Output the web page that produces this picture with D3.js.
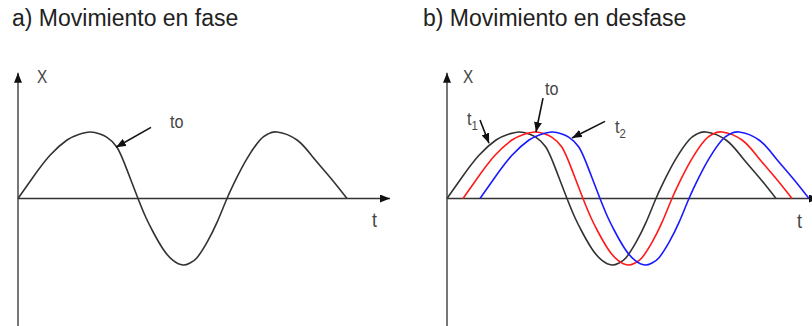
<!DOCTYPE html>
<html lang="es">
<head>
  <meta charset="UTF-8">
  <title>Movimiento en fase y en desfase</title>
  <style>
    body { margin: 0; background: #fff; }
    svg { display: block; font-family: "Liberation Sans", Arial, sans-serif; }
  </style>
</head>
<body>
  <script src="https://d3js.org/d3.v7.min.js"></script>
  <script>
    const width = 812;
    const height = 326;

    // wave: time (arbitrary units) and elongation X
    const tValues = [0, 15, 32, 49, 60, 72, 82, 89, 99, 109, 120, 128, 135, 145, 155, 165, 172, 179, 189, 199, 209, 219, 229, 242, 250, 259, 279, 295, 312, 329];
    const xValues = [0, 0.32, 0.65, 0.88, 0.96, 1, 0.97, 0.92, 0.77, 0.43, 0, -0.29, -0.5, -0.76, -0.93, -1, -0.97, -0.89, -0.66, -0.36, 0, 0.32, 0.6, 0.88, 0.97, 1, 0.88, 0.62, 0.32, 0];
    // time shift of each curve in panel b
    const shifts = [0, 16, 33];
    const titles = ['a) Movimiento en fase', 'b) Movimiento en desfase'];

    const wave = tValues.map((t, i) => ({ t, x: xValues[i] }));
    const curveColors = ['#333', '#ff1a1a', '#1a1aff'];

    const svg = d3.select('body')
      .append('svg')
      .attr('width', width)
      .attr('height', height);

    const defs = svg.append('defs');
    defs.append('marker')
      .attr('id', 'head')
      .attr('markerUnits', 'userSpaceOnUse')
      .attr('viewBox', '0 0 10 8')
      .attr('markerWidth', 10)
      .attr('markerHeight', 8)
      .attr('refX', 10)
      .attr('refY', 4)
      .attr('orient', 'auto')
      .append('path')
      .attr('d', 'M0,0L10,4L0,8Z')
      .attr('fill', '#111');

    const y = d3.scaleLinear().domain([-1, 1]).range([265, 132]);
    const xa = d3.scaleLinear().domain([0, 372]).range([18, 390]);
    const xb = d3.scaleLinear().domain([0, 372]).range([447, 819]);

    function drawAxes(x) {
      svg.append('line')
        .attr('x1', x(0)).attr('y1', y(0))
        .attr('x2', x(372)).attr('y2', y(0))
        .attr('stroke', '#333').attr('stroke-width', 1.6)
        .attr('marker-end', 'url(#head)');
      svg.append('line')
        .attr('x1', x(0)).attr('y1', y(-1.95))
        .attr('x2', x(0)).attr('y2', y(1.89))
        .attr('stroke', '#555').attr('stroke-width', 1.6)
        .attr('marker-end', 'url(#head)');
    }

    // labels in the picture are a narrow face, so squeeze them a bit
    function label(x, t, v, text, size, sub) {
      const el = svg.append('text')
        .attr('transform', `translate(${x(t)},${y(v)}) scale(0.85,1)`)
        .attr('font-size', size)
        .attr('fill', '#444')
        .text(text);
      if (sub) {
        el.append('tspan')
          .attr('font-size', size * 0.7)
          .attr('dy', 5)
          .text(sub);
      }
    }

    function arrow(x, t1, v1, t2, v2) {
      svg.append('line')
        .attr('x1', x(t1)).attr('y1', y(v1))
        .attr('x2', x(t2)).attr('y2', y(v2))
        .attr('stroke', '#111').attr('stroke-width', 1.6)
        .attr('marker-end', 'url(#head)');
    }

    function drawWave(x, shift, color) {
      const line = d3.line()
        .x(d => x(d.t + shift))
        .y(d => y(d.x))
        .curve(d3.curveNatural);
      svg.append('path')
        .datum(wave)
        .attr('fill', 'none')
        .attr('stroke', color)
        .attr('stroke-width', 1.6)
        .attr('d', line);
    }

    // titles
    svg.append('text').attr('x', 12).attr('y', 26)
      .attr('font-size', 23).attr('fill', '#222').text(titles[0]);
    svg.append('text').attr('x', 423).attr('y', 26)
      .attr('font-size', 23).attr('fill', '#222').text(titles[1]);

    // a) in phase
    drawAxes(xa);
    drawWave(xa, 0, curveColors[0]);
    label(xa, 19, 1.73, 'X', 18);
    label(xa, 152, 1.06, 'to', 19);
    label(xa, 354, -0.43, 't', 21);
    arrow(xa, 133, 1.07, 98, 0.77);

    // b) out of phase
    drawAxes(xb);
    shifts.forEach((s, i) => drawWave(xb, s, curveColors[i]));
    label(xb, 16, 1.73, 'X', 18);
    label(xb, 98, 1.55, 'to', 19);
    label(xb, 20, 1.10, 't', 19, '1');
    label(xb, 168, 0.98, 't', 19, '2');
    label(xb, 350, -0.44, 't', 21);
    arrow(xb, 96, 1.51, 89, 1.0);
    arrow(xb, 33, 1.18, 42, 0.83);
    arrow(xb, 158, 1.16, 125, 0.91);
  </script>
</body>
</html>
